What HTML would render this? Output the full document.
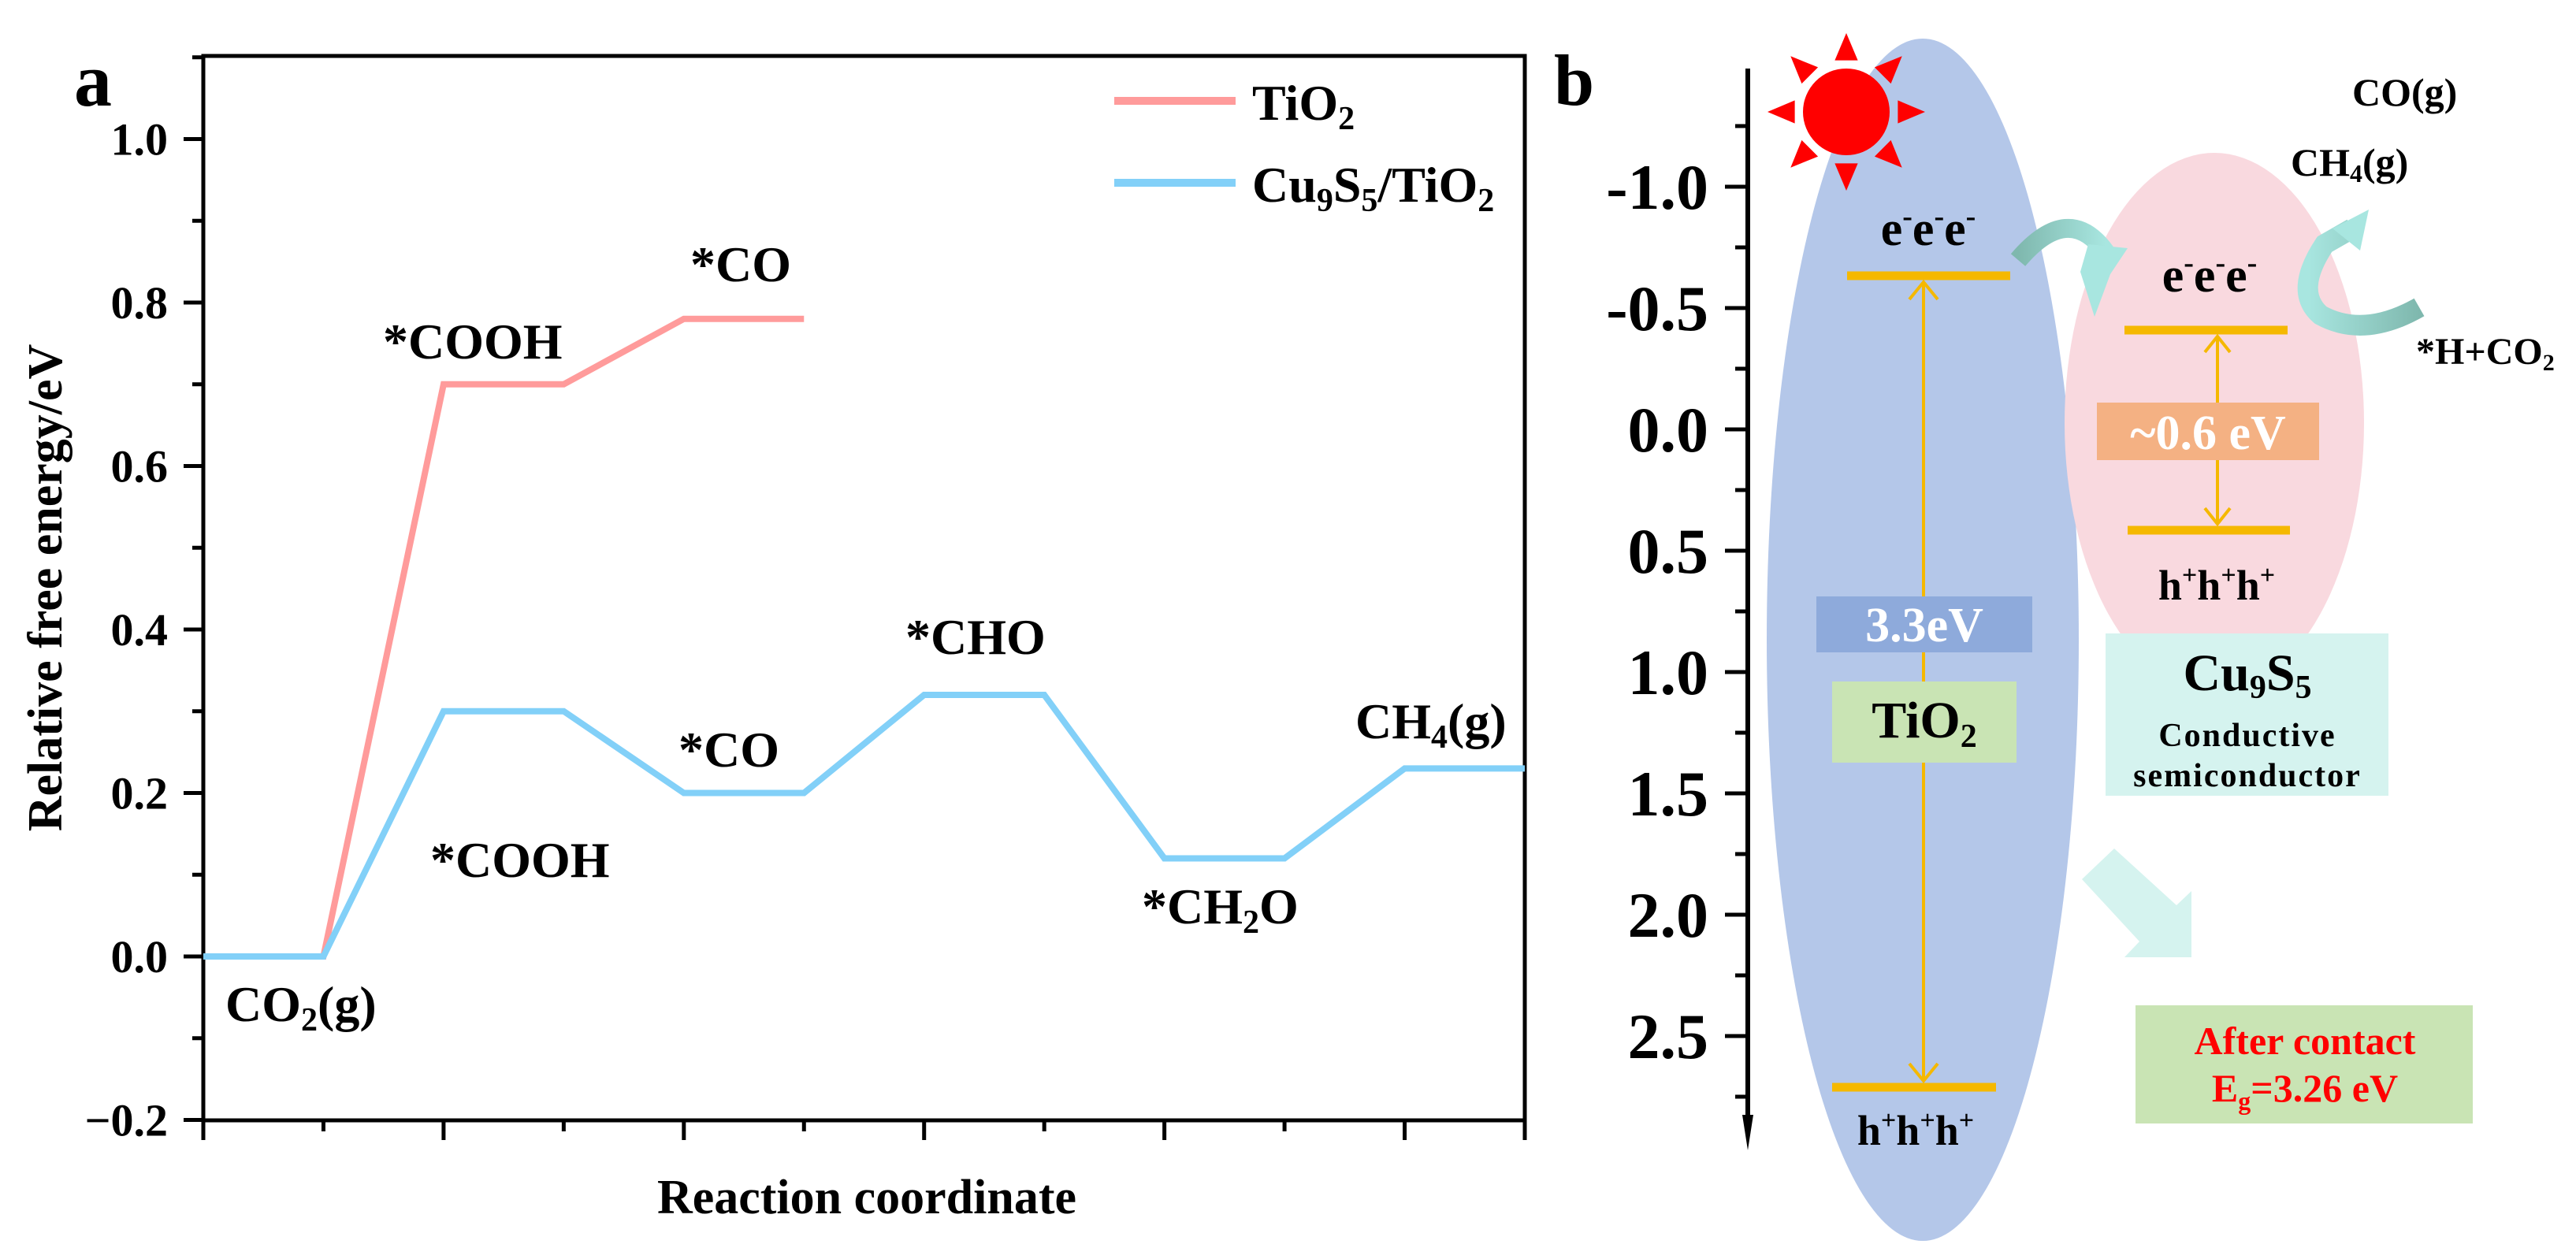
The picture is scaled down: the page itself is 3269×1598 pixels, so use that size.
<!DOCTYPE html>
<html><head><meta charset="utf-8">
<style>
html,body{margin:0;padding:0;background:#fff;}
svg{display:block;}
text{font-family:"Liberation Serif","Times New Roman",serif;font-weight:bold;fill:#000;}
</style></head>
<body>
<svg id="fig" width="3269" height="1598" viewBox="0 0 3269 1598" xmlns="http://www.w3.org/2000/svg">
<rect x="0" y="0" width="3269" height="1598" fill="#ffffff"/>
<g id="panelA"></g>
<g id="panelB">
  <text x="1972" y="133" font-size="92">b</text>
  <ellipse cx="2440" cy="812" rx="198" ry="763" fill="#b4c7e9"/>
  <ellipse cx="2810" cy="537" rx="190" ry="343" fill="#f9d9df"/>
  <g>
    <circle cx="2343" cy="142" r="55" fill="#ff0000"/>
    <g id="sunRays" fill="#ff0000"></g>
  </g>
  <!-- TiO2 bands -->
  <line x1="2344" y1="350" x2="2551" y2="350" stroke="#f5b800" stroke-width="11"/>
  <line x1="2325" y1="1380" x2="2533" y2="1380" stroke="#f5b800" stroke-width="11"/>
  <line x1="2441" y1="358" x2="2441" y2="1372" stroke="#f5b800" stroke-width="4"/>
  <polyline points="2423,380 2441,358 2459,380" fill="none" stroke="#f5b800" stroke-width="4"/>
  <polyline points="2423,1350 2441,1372 2459,1350" fill="none" stroke="#f5b800" stroke-width="4"/>
  <rect x="2305" y="757" width="274" height="71" fill="#8eaadb"/>
  <text x="2442" y="814" font-size="62" fill="#ffffff" style="fill:#fff" text-anchor="middle">3.3eV</text>
  <rect x="2325" y="865" width="234" height="103" fill="#c9e4b4"/>
  <text x="2442" y="936" font-size="66" text-anchor="middle">TiO<tspan font-size="42" dy="12">2</tspan></text>
  <text x="2447" y="311" font-size="62" text-anchor="middle">e<tspan font-size="38" dy="-24">-</tspan><tspan dy="24">e</tspan><tspan font-size="38" dy="-24">-</tspan><tspan dy="24">e</tspan><tspan font-size="38" dy="-24">-</tspan></text>
  <text x="2431" y="1453" font-size="54" text-anchor="middle">h<tspan font-size="34" dy="-20">+</tspan><tspan dy="20">h</tspan><tspan font-size="34" dy="-20">+</tspan><tspan dy="20">h</tspan><tspan font-size="34" dy="-20">+</tspan></text>
  <!-- Cu9S5 bands -->
  <line x1="2696" y1="419" x2="2903" y2="419" stroke="#f5b800" stroke-width="11"/>
  <line x1="2700" y1="673" x2="2906" y2="673" stroke="#f5b800" stroke-width="11"/>
  <line x1="2814" y1="427" x2="2814" y2="665" stroke="#f5b800" stroke-width="4"/>
  <polyline points="2798,447 2814,427 2830,447" fill="none" stroke="#f5b800" stroke-width="4"/>
  <polyline points="2798,645 2814,665 2830,645" fill="none" stroke="#f5b800" stroke-width="4"/>
  <rect x="2661" y="511" width="282" height="73" fill="#f4b183"/>
  <text x="2802" y="570" font-size="62" style="fill:#fff" text-anchor="middle">~0.6 eV</text>
  <text x="2804" y="370" font-size="62" text-anchor="middle">e<tspan font-size="38" dy="-24">-</tspan><tspan dy="24">e</tspan><tspan font-size="38" dy="-24">-</tspan><tspan dy="24">e</tspan><tspan font-size="38" dy="-24">-</tspan></text>
  <text x="2813" y="761" font-size="54" text-anchor="middle">h<tspan font-size="34" dy="-20">+</tspan><tspan dy="20">h</tspan><tspan font-size="34" dy="-20">+</tspan><tspan dy="20">h</tspan><tspan font-size="34" dy="-20">+</tspan></text>
  <rect x="2672" y="804" width="359" height="206" fill="#d5f3ef"/>
  <text x="2852" y="876" font-size="66" text-anchor="middle">Cu<tspan font-size="42" dy="10">9</tspan><tspan dy="-10">S</tspan><tspan font-size="42" dy="10">5</tspan></text>
  <text x="2852" y="947" font-size="42" text-anchor="middle" letter-spacing="2">Conductive</text>
  <text x="2852" y="998" font-size="42" text-anchor="middle" letter-spacing="2">semiconductor</text>
  <!-- arrows -->
  <defs>
    <linearGradient id="g1" x1="0" y1="0" x2="1" y2="0"><stop offset="0" stop-color="#7fb8ae"/><stop offset="1" stop-color="#a8e6e0"/></linearGradient>
    <linearGradient id="g2" x1="1" y1="0" x2="0" y2="0"><stop offset="0" stop-color="#7fb8ae"/><stop offset="1" stop-color="#a8e6e0"/></linearGradient>
  </defs>
  <path d="M2561 330 Q2625 255 2672 320" fill="none" stroke="url(#g1)" stroke-width="24"/>
  <polygon points="2650,310 2700,315 2678,348 2658,402 2640,345" fill="#a8e6e0"/>
  <path d="M3070 390 Q3000 430 2945 400 Q2910 370 2950 310 L2985 290" fill="none" stroke="url(#g2)" stroke-width="26"/>
  <polygon points="2960,290 3006,266 2995,318" fill="#a8e6e0"/>
  <polygon points="2683,1077 2762,1149 2781,1131 2781,1215 2696,1215 2715,1195 2642,1116" fill="#d5f3ef"/>
  <rect x="2710" y="1276" width="428" height="150" fill="#c9e4b4"/>
  <text x="2925" y="1338" font-size="50" style="fill:#ff0000" text-anchor="middle">After contact</text>
  <text x="2925" y="1398" font-size="50" style="fill:#ff0000" text-anchor="middle">E<tspan font-size="32" dy="10">g</tspan><tspan dy="-10">=3.26 eV</tspan></text>
  <text x="2985" y="134" font-size="50">CO(g)</text>
  <text x="2907" y="223" font-size="50">CH<tspan font-size="32" dy="8">4</tspan><tspan dy="-8">(g)</tspan></text>
  <text x="3066" y="462" font-size="48">*H+CO<tspan font-size="30" dy="8">2</tspan></text>
  <g id="bAxis"></g>
</g>
</svg>
<script>
// Panel a data
const stepIndex = [0,1,2,3,4,5,6,7,8,9,10,11];
const tio2Steps = [0,1,2,3,4,5];
const tio2Values = [0,0,0.70,0.70,0.78,0.78];
const cuValues = [0,0,0.30,0.30,0.20,0.20,0.32,0.32,0.12,0.12,0.23,0.23];
const yTicks = [-0.2,0.0,0.2,0.4,0.6,0.8,1.0];
const yTickLabels = ["\u22120.2","0.0","0.2","0.4","0.6","0.8","1.0"];
// Panel b axis
const bTicks = [-1.0,-0.5,0.0,0.5,1.0,1.5,2.0,2.5];
const bTickLabels = ["-1.0","-0.5","0.0","0.5","1.0","1.5","2.0","2.5"];

const NS = "http://www.w3.org/2000/svg";
function mk(tag, attrs, parent){const e=document.createElementNS(NS,tag);for(const k in attrs)e.setAttribute(k,attrs[k]);parent.appendChild(e);return e;}

const L=258,R=1935,T=71,B=1422;
const xS = i => L + i*(R-L)/11;
const yS = v => 1214 - v*1037.5;
const A = document.getElementById('panelA');

let frame = mk('rect',{x:L,y:T,width:R-L,height:B-T,fill:'none',stroke:'#000','stroke-width':5},A);



// y ticks
for(let v=-0.2; v<=1.1001; v+=0.1){
  const major = Math.abs(Math.round(v*10)%2)===0;
  const t = mk('line',{x1:L-(major?25:14),x2:L,y1:yS(v),y2:yS(v),stroke:'#000','stroke-width':5},A);
  
  
}
yTicks.forEach((v,i)=>{
  const t = mk('text',{x:213,y:yS(v)+20,'font-size':58,'text-anchor':'end'},A);
  t.textContent = yTickLabels[i];
  
  
});
stepIndex.forEach(i=>{
  const major = i%2===0;
  const t = mk('line',{x1:xS(i),x2:xS(i),y1:B,y2:B+(major?25:14),stroke:'#000','stroke-width':5},A);
  
  
});
{
  const t = mk('line',{x1:R,x2:R,y1:B,y2:B+25,stroke:'#000','stroke-width':5},A);
  
  
}

// series
const tio2 = mk('polyline',{points:tio2Steps.map(i=>xS(i)+','+yS(tio2Values[i])).join(' '),fill:'none',stroke:'#ff9b9b','stroke-width':8},A);


const cu = mk('polyline',{points:stepIndex.map(i=>xS(i)+','+yS(cuValues[i])).join(' '),fill:'none',stroke:'#82d0f8','stroke-width':8},A);



// texts
function txt(html,x,y,fs,name,anchor){
  const t=mk('text',{x:x,y:y,'font-size':fs},A);
  if(anchor)t.setAttribute('text-anchor',anchor);
  t.innerHTML=html;
  
  
  return t;
}
txt('a',94,134,96,'panel-a-label');
txt('Reaction coordinate',1100,1540,62,'x-axis-title','middle');
const yt = txt('Relative free energy/eV',0,0,62,'y-axis-title','middle');
yt.setAttribute('transform','translate(78,746) rotate(-90)');
txt('*CO',876,357,64,'label-tio2-co');
txt('*COOH',486,455,64,'label-tio2-cooh');
txt('*COOH',546,1113,64,'label-cu-cooh');
txt('*CO',861,973,64,'label-cu-co');
txt('*CHO',1149,830,64,'label-cu-cho');
txt('CH<tspan font-size="42" dy="12">4</tspan><tspan dy="-12">(g)</tspan>',1720,937,64,'label-ch4');
txt('*CH<tspan font-size="42" dy="12">2</tspan><tspan dy="-12">O</tspan>',1449,1172,64,'label-ch2o');
txt('CO<tspan font-size="42" dy="12">2</tspan><tspan dy="-12">(g)</tspan>',286,1296,64,'label-co2');

// legend
let lg = mk('line',{x1:1414,x2:1568,y1:128,y2:128,stroke:'#ff9b9b','stroke-width':10},A);


txt('TiO<tspan font-size="42" dy="12">2</tspan>',1589,152,64,'legend-entry-tio2');
lg = mk('line',{x1:1414,x2:1568,y1:232,y2:232,stroke:'#82d0f8','stroke-width':10},A);


txt('Cu<tspan font-size="42" dy="12">9</tspan><tspan dy="-12">S</tspan><tspan font-size="42" dy="12">5</tspan><tspan dy="-12">/TiO</tspan><tspan font-size="42" dy="12">2</tspan>',1589,256,64,'legend-entry-cu9s5-tio2');

// panel b axis
const BX=2218;
const yB = v => 545 + v*308;
const BA = document.getElementById('bAxis');
let ax = mk('line',{x1:BX,x2:BX,y1:87,y2:1430,stroke:'#000','stroke-width':6},BA);


mk('polygon',{points:`${BX-7},1415 ${BX+7},1415 ${BX},1460`,fill:'#000'},BA);
for(let v=-1.25; v<=2.76; v+=0.25){
  const major = Math.abs(Math.round(v*4)%2)===0;
  const t = mk('line',{x1:BX-(major?29:16),x2:BX,y1:yB(v),y2:yB(v),stroke:'#000','stroke-width':5},BA);
  
  
}
bTicks.forEach((v,i)=>{
  const t = mk('text',{x:2168,y:yB(v)+28,'font-size':82,'text-anchor':'end'},BA);
  t.textContent=bTickLabels[i];
  
  
});

// sun rays
const SR=document.getElementById('sunRays');
for(let k=0;k<8;k++){
  const a=k*Math.PI/4, cx=2343, cy=142;
  const p=(r,da)=>[cx+r*Math.cos(a+da), cy+r*Math.sin(a+da)];
  const tip=p(100,0), b1=p(67,0.22), b2=p(67,-0.22);
  mk('polygon',{points:`${tip} ${b1} ${b2}`},SR);
}
</script>
</body></html>
